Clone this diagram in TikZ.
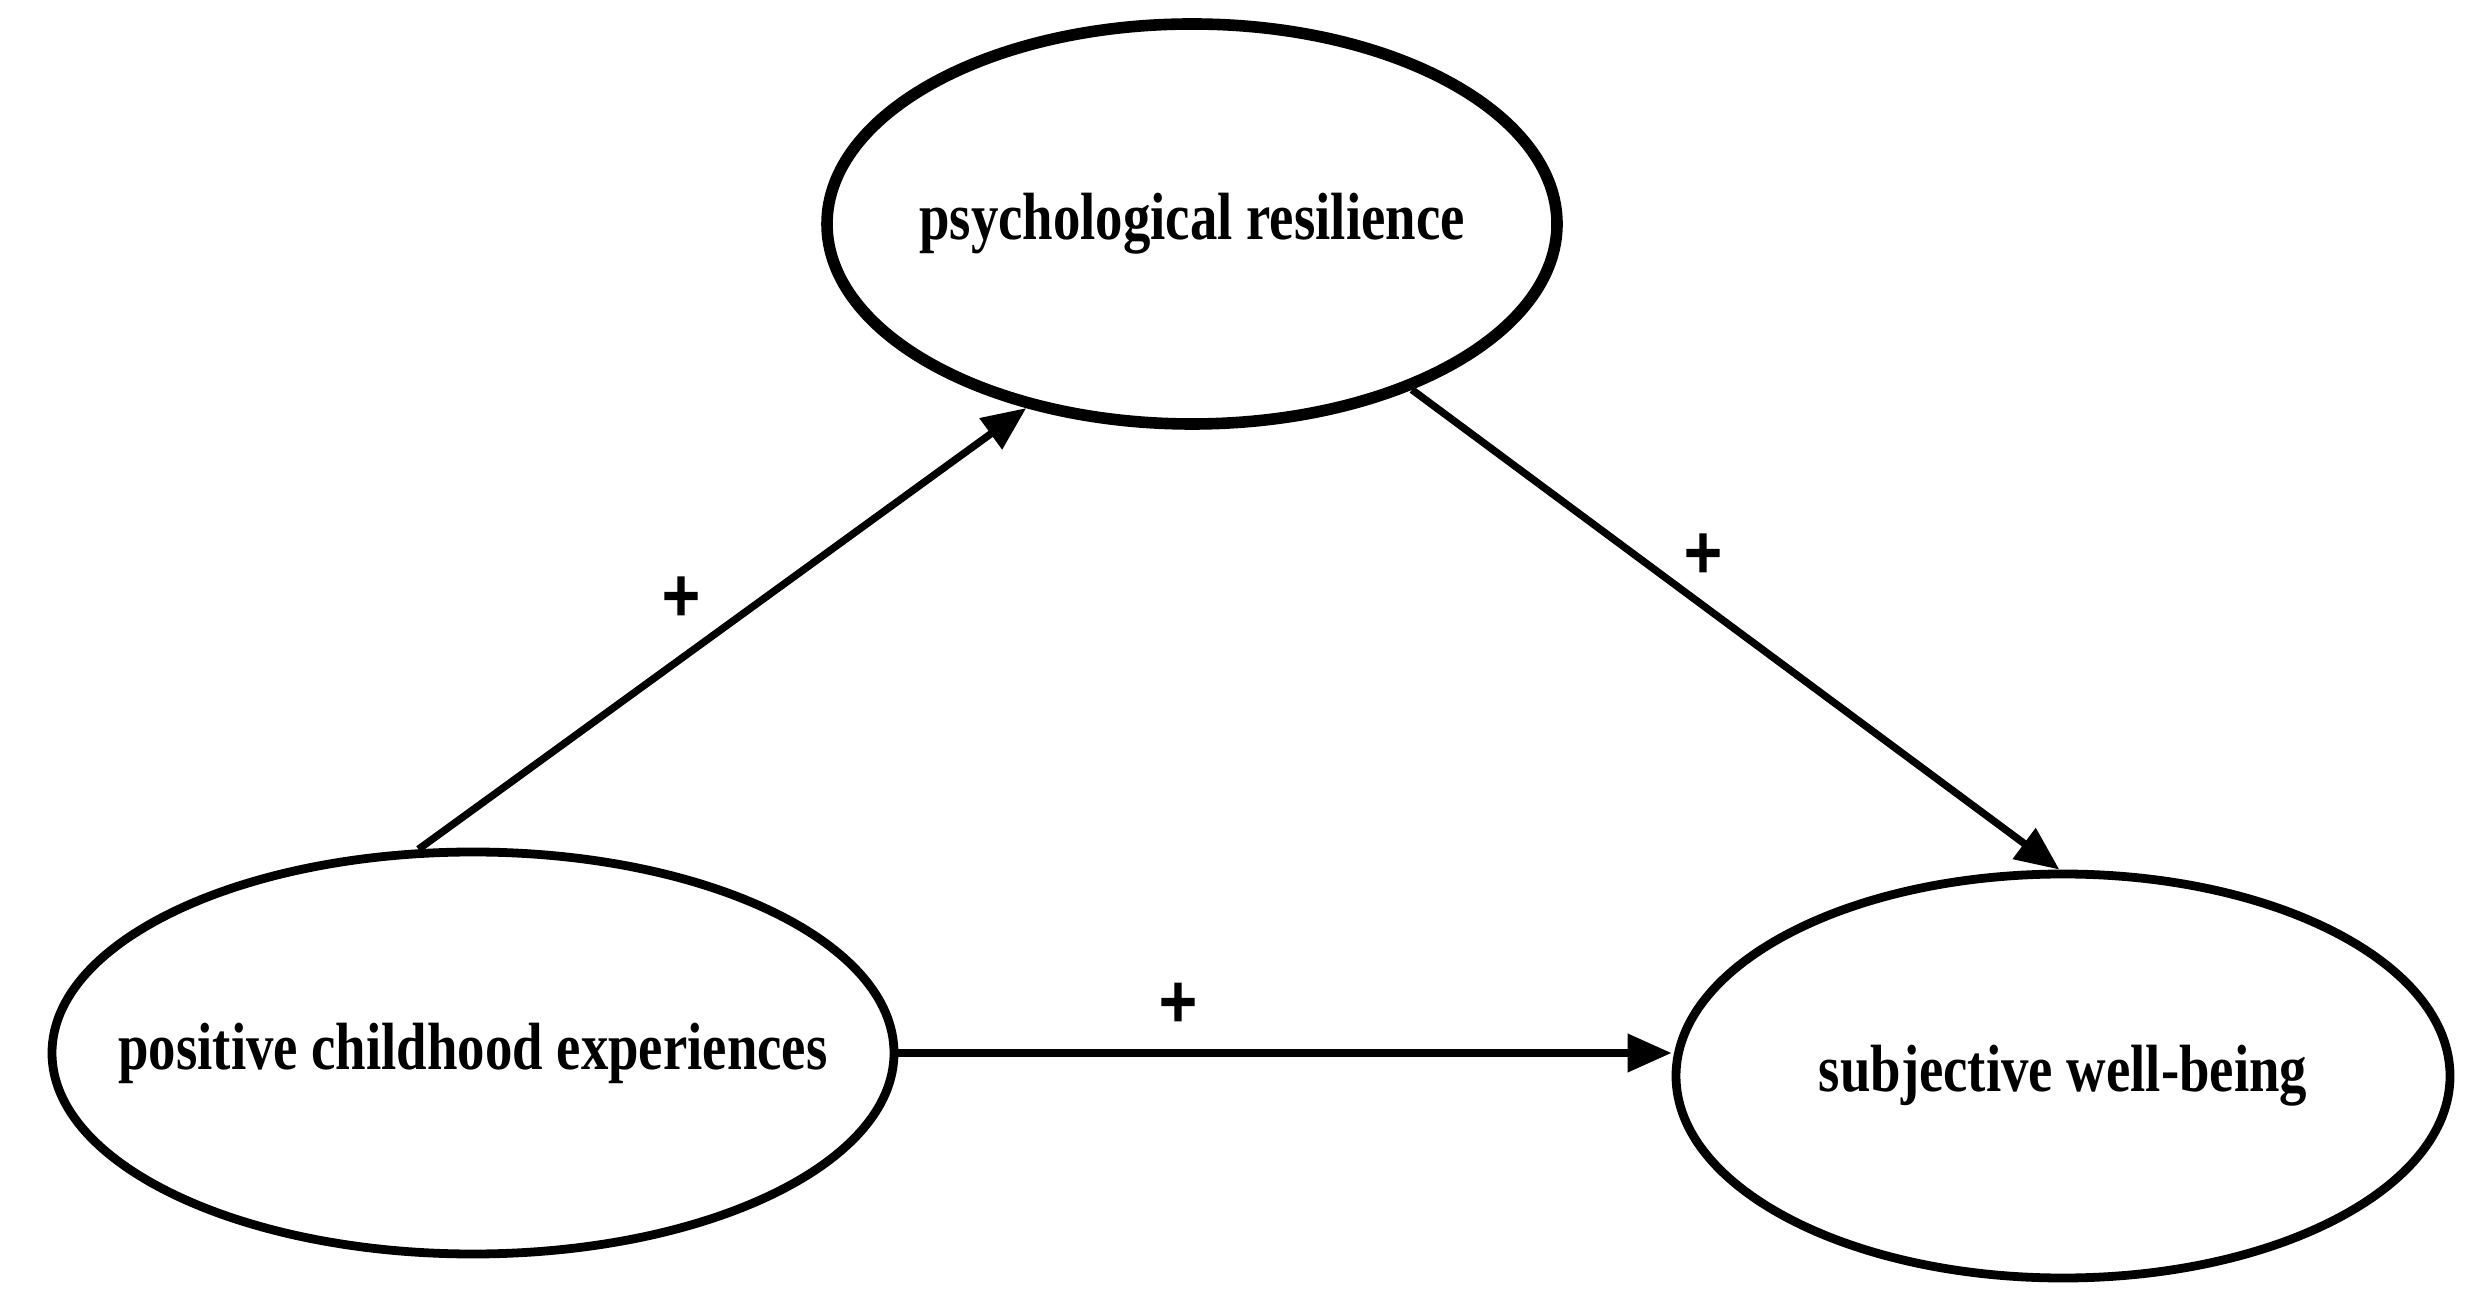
\documentclass[tikz,border=0pt]{standalone}
\usepackage{fontspec}
\setmainfont{Liberation Serif}[FakeStretch=0.82]
\newfontfamily\plusfont{DejaVu Sans}[FakeStretch=0.85,FakeBold=2.5]
\usetikzlibrary{shapes.geometric,arrows.meta}
\tikzset{
  var/.style={ellipse, draw=black, line width=2.5pt, inner sep=0pt},
  varthick/.style={var, line width=3.3pt},
  vartext/.style={font=\fontsize{19}{22}\selectfont\bfseries, inner sep=0pt},
  path/.style={line width=2.1pt, -{Triangle[length=12.5pt,width=10.5pt]}},
  sign/.style={font=\fontsize{17}{20}\plusfont\bfseries, inner sep=0pt}
}
\begin{document}
\begin{tikzpicture}[x=0.01cm,y=-0.01cm]
\useasboundingbox (0,0) rectangle (2479,1307);
\node[varthick, minimum width=0.01cm*730, minimum height=0.01cm*400,
  label={[vartext]center:psychological resilience}] (pr) at (1192,224) {};
\node[var, minimum width=0.01cm*842, minimum height=0.01cm*402,
  label={[vartext]center:positive childhood experiences}] (pce) at (473,1053) {};
\node[var, minimum width=0.01cm*774, minimum height=0.01cm*404,
  label={[vartext]center:subjective well-being}] (sw) at (2063,1076) {};
\draw[path] (pce.105) -- (pr.-132);
\draw[path] (pr.-37) -- (sw.91);
\draw[path] (pce.east) -- (pce.east -| sw.west);
\node[sign] (s1) at (681,596) {+};
\node[sign] (s2) at (1703,553) {+};
\node[sign] (s3) at (1178,1002) {+};
\end{tikzpicture}
\end{document}
